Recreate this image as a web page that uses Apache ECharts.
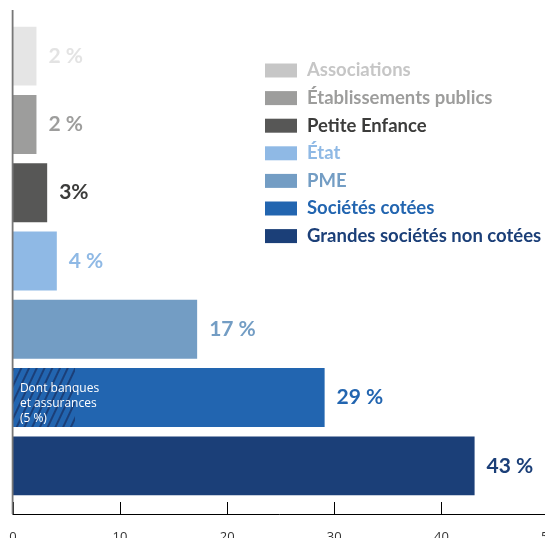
<!DOCTYPE html>
<html><head><meta charset="utf-8">
<script src="https://cdn.jsdelivr.net/npm/echarts@6/dist/echarts.min.js"></script>
<style>html,body{margin:0;padding:0;background:#fff}#c{width:545px;height:538px}</style>
</head><body><div id="c"></div>
<script>
const categories = ['Associations','Établissements publics','Petite Enfance','État','PME','Sociétés cotées','Grandes sociétés non cotées'];
const values = [2.2, 2.2, 3.2, 4.1, 17.2, 29.1, 43.1];
const valueLabels = ['2 %','2 %','3%','4 %','17 %','29 %','43 %'];
const barColors = ['#e5e5e5','#9d9d9c','#575756','#8fb9e5','#739dc4','#2265b0','#1b3f78'];
const legendSwatch = ['#c6c6c6','#9d9d9c','#575756','#8fb9e5','#739dc4','#2265b0','#1b3f78'];
const labelColors = ['#e3e3e3','#9d9d9c','#3c3c3b','#8fb9e5','#739dc4','#2265b0','#1b3f78'];
const legendTextColors = ['#c6c6c6','#9d9d9c','#3c3c3b','#8fb9e5','#739dc4','#2265b0','#1b3f78'];
const hatchCategory = 'Sociétés cotées';
const hatchValue = 5.8;
const hatchLabel = 'Dont banques\net assurances\n(5 %)';
const xTicks = [0,10,20,30,40,50];

const chart = echarts.init(document.getElementById('c'), null, {renderer:'canvas'});
const FONT = 'Lato';
const series = categories.map((name, i) => ({
  name, type:'bar', stack:'total', barWidth:'86.3%',
  data: categories.map((c, j) => j === i ? values[i] : '-'),
  itemStyle:{color: barColors[i]},
  label:{show:true, position:'right', distance:12, formatter:()=>valueLabels[i],
    color: labelColors[i], fontFamily:FONT, fontWeight:'bold', fontSize:21},
  emphasis:{disabled:true}, animation:false
}));
series.push({
  name:'hatch', type:'bar', stack:'hatch', barWidth:'86.3%', barGap:'-100%',
  data: categories.map(c => c === hatchCategory ? hatchValue : '-'),
  itemStyle:{color:'rgba(0,0,0,0)', decal:{symbol:'rect', symbolSize:1, color:'#1b3f78',
    dashArrayX:[1,0], dashArrayY:[1.9,4.3], rotation:-Math.PI*0.36}},
  label:{show:true, position:'insideLeft', distance:7, offset:[0,6], formatter:hatchLabel, color:'#fff',
    fontFamily:'Open Sans', fontSize:12, lineHeight:15, align:'left'},
  z:3, animation:false, emphasis:{disabled:true}
});
chart.setOption({
  animation:false,
  aria:{enabled:false},
  legend:{orient:'vertical', left:265, top:61, padding:0, itemWidth:32, itemHeight:14, itemGap:8.6,
    icon:'rect', selectedMode:false,
    data: categories.map((n,i)=>({name:n, itemStyle:{color:legendSwatch[i]},
      textStyle:{color:legendTextColors[i], fontFamily:FONT, fontWeight:'bold', fontSize:18.5}})),
    textStyle:{padding:[0,0,0,5]}
  },
  grid:{left:12.9, width:535.6, top:22, height:478, containLabel:false, outerBoundsMode:'none'},
  xAxis:{type:'value', min:0, max:50, interval:10, offset:14,
    axisLine:{show:true, lineStyle:{color:'#000', width:1}},
    axisTick:{show:true, inside:true, length:12, lineStyle:{color:'#000'}},
    axisLabel:{margin:17, color:'#333', fontFamily:'Open Sans', fontSize:13,
      formatter:v=> xTicks.includes(v) ? String(v) : ''},
    splitLine:{show:false}},
  yAxis:{type:'category', data:categories, inverse:true,
    axisLine:{show:false}, axisTick:{show:false}, axisLabel:{show:false}},
  series
});
const x0 = chart.convertToPixel({xAxisIndex:0}, 0);
chart.setOption({graphic:[{type:'line', shape:{x1:x0-0.3, y1:10, x2:x0-0.3, y2:514}, style:{stroke:'#777', lineWidth:1.8}, z:10}]});
</script></body></html>
